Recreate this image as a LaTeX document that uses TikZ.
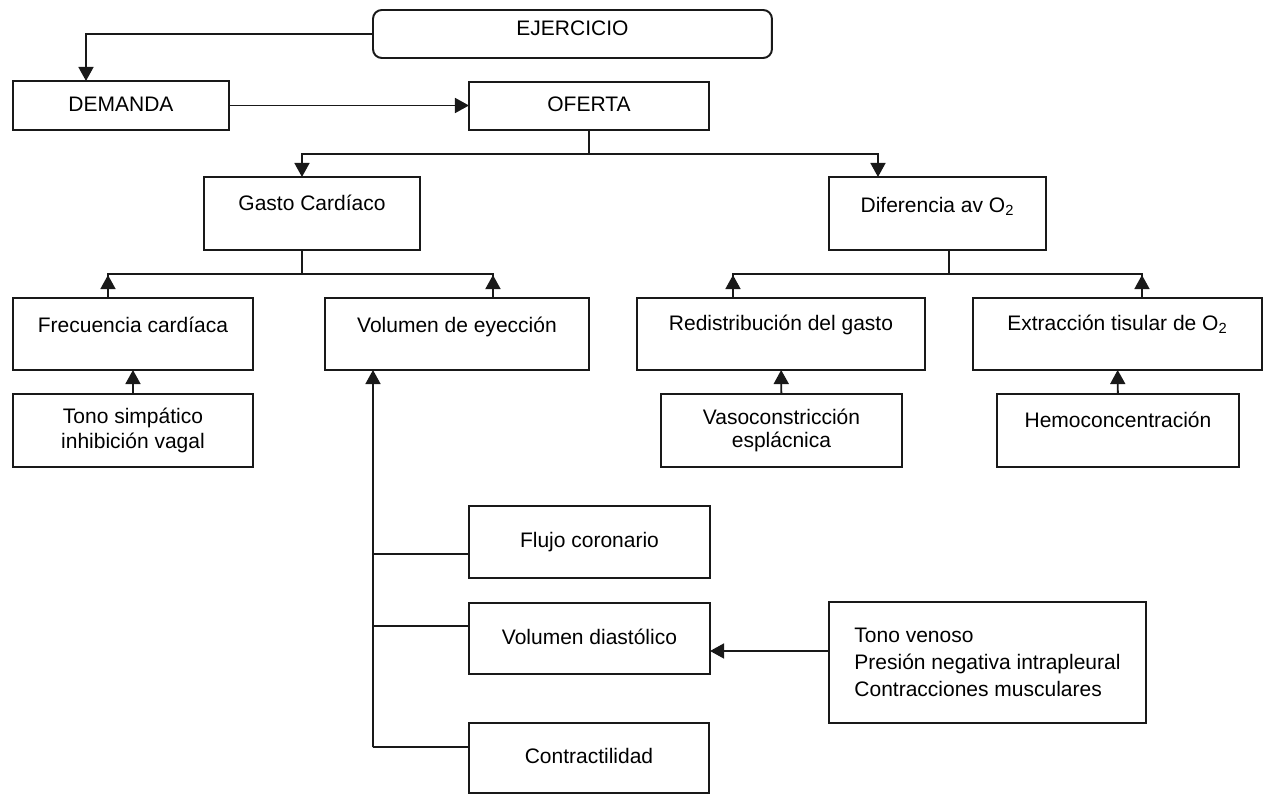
\documentclass[tikz,border=0pt]{standalone}
\usepackage{fontspec}
\setmainfont{Liberation Sans}
\usetikzlibrary{arrows.meta}

\begin{document}
\begin{tikzpicture}[x=0.02cm, y=-0.02cm,
      box/.style={draw=black!90, line width=1.1pt, rectangle, anchor=north west,
        outer sep=0pt, inner sep=0pt, font=\fontsize{11.95}{14}\selectfont},
      upper/.style={text height=9pt, text depth=#1},
      upper/.default=12pt,
      wire/.style={draw=black!90, line width=1.1pt},
      arr/.style={wire, -{Triangle[length=8pt, width=8.5pt]}}]
      \useasboundingbox (0,0) rectangle (1264,794);
      \node[box, rounded corners=5pt, minimum width=7.98cm, minimum height=0.96cm,
        upper=7.8pt] (ejer) at (373,10) {EJERCICIO};
      \node[box, minimum width=4.32cm, minimum height=0.98cm, upper=2.7pt] (dem)
      at (13,81) {DEMANDA};
      \node[box, minimum width=4.8cm, minimum height=0.96cm, upper=2.7pt] (ofer)
      at (469,82) {OFERTA};
      \node[box, minimum width=4.32cm, minimum height=1.46cm, upper] (gasto)
      at (204,177) {Gasto Cardíaco};
      \node[box, minimum width=4.34cm, minimum height=1.46cm, upper=10.5pt] (dif)
      at (829,177) {Diferencia av O\textsubscript{2}};
      \node[box, minimum width=4.8cm, minimum height=1.44cm, upper=11pt] (frec)
      at (13,298) {Frecuencia cardíaca};
      \node[box, minimum width=5.28cm, minimum height=1.44cm, upper=11pt] (vol)
      at (325,298) {Volumen de eyección};
      \node[box, minimum width=5.76cm, minimum height=1.44cm, upper=13pt] (redis)
      at (637,298) {Redistribución del gasto};
      \node[box, minimum width=5.78cm, minimum height=1.44cm, upper=13pt] (extr)
      at (973,298) {Extracción tisular de O\textsubscript{2}};
      \node[box, minimum width=4.8cm, minimum height=1.46cm, align=center,
        font=\fontsize{11.95}{14.2}\selectfont] (tono)
      at (13,394) {Tono simpático\\inhibición vagal};
      \node[box, minimum width=4.82cm, minimum height=1.46cm, align=center,
        font=\fontsize{11.95}{13.1}\selectfont] (vaso)
      at (661,394) {Vasoconstricción\\esplácnica};
      \node[box, minimum width=4.84cm, minimum height=1.46cm, upper] (hemo)
      at (997,394) {Hemoconcentración};
      \node[box, minimum width=4.82cm, minimum height=1.44cm, upper=2.7pt] (flujo)
      at (469,506) {Flujo coronario};
      \node[box, minimum width=4.82cm, minimum height=1.42cm, upper=2.7pt] (diast)
      at (469,603) {Volumen diastólico};
      \node[box, minimum width=4.8cm, minimum height=1.4cm, upper=2.7pt] (contr)
      at (469,723) {Contractilidad};
      \node[box, minimum width=6.34cm, minimum height=2.42cm, align=left,
        font=\fontsize{11.95}{15.4}\selectfont] (tven)
      at (829,602) {Tono venoso\\Presión negativa intrapleural\\Contracciones musculares};
      \coordinate (j1) at (589,154);
      \coordinate (j2) at (302,274);
      \coordinate (j3) at (949,274);
      \coordinate (trunk) at (373,747);
      \draw[arr] (ejer.west) -| ([xshift=-0.7cm]dem.north);
      \draw[arr] (dem.east) -- (dem.east -| ofer.west);
      \draw[wire] (ofer.south) -- (j1);
      \draw[arr] (j1) -| ([xshift=-0.2cm]gasto.north);
      \draw[arr] (j1) -| ([xshift=-1.19cm]dif.north);
      \draw[wire] ([xshift=-0.2cm]gasto.south) -- (j2);
      \draw[wire] (j2) -| ([xshift=-0.5cm]frec.north);
      \draw[arr] ([xshift=-0.5cm]frec.north) -- ++(0,-23);
      \draw[wire] (j2) -| ([xshift=0.72cm]vol.north);
      \draw[arr] ([xshift=0.72cm]vol.north) -- ++(0,-23);
      \draw[wire] ([xshift=0.23cm]dif.south) -- (j3);
      \draw[wire] (j3) -| ([xshift=-0.96cm]redis.north);
      \draw[arr] ([xshift=-0.96cm]redis.north) -- ++(0,-23);
      \draw[wire] (j3) -| ([xshift=0.49cm]extr.north);
      \draw[arr] ([xshift=0.49cm]extr.north) -- ++(0,-23);
      \draw[arr] (tono) -- (frec);
      \draw[arr] (vaso) -- (redis);
      \draw[arr] (hemo) -- (extr);
      \draw[arr] (trunk) -- ([xshift=-1.68cm]vol.south);
      \draw[wire] ([yshift=-0.24cm]flujo.west) -- ++(-96,0);
      \draw[wire] ([yshift=0.25cm]diast.west) -- ++(-96,0);
      \draw[wire] ([yshift=0.22cm]contr.west) -- (trunk);
      \draw[arr] ([yshift=0.23cm]tven.west) -- ++(-119,0);
    \end{tikzpicture}
\end{document}
